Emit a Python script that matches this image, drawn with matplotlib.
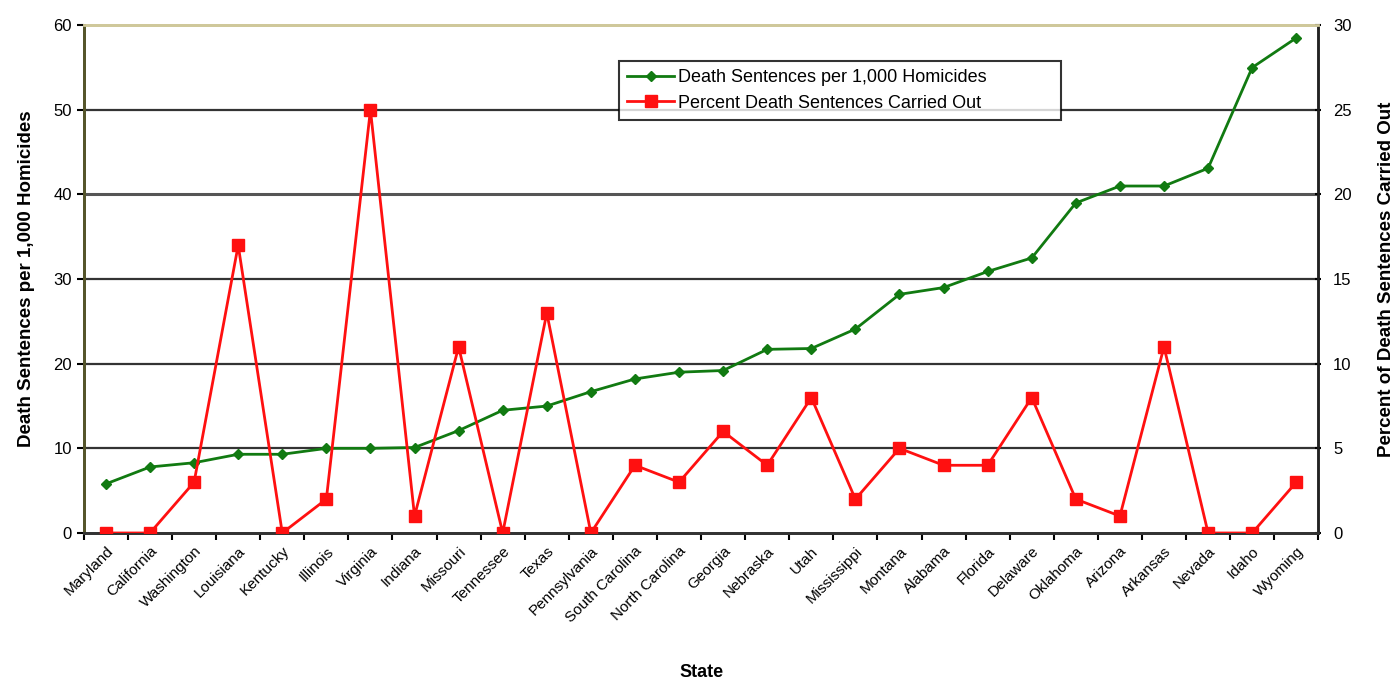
import numpy as np
import matplotlib.pyplot as plt

states = ["Maryland", "California", "Washington", "Louisiana", "Kentucky", "Illinois",
          "Virginia", "Indiana", "Missouri", "Tennessee", "Texas", "Pennsylvania",
          "South Carolina", "North Carolina", "Georgia", "Nebraska", "Utah", "Mississippi",
          "Montana", "Alabama", "Florida", "Delaware", "Oklahoma", "Arizona", "Arkansas",
          "Nevada", "Idaho", "Wyoming"]
# death sentences per 1,000 homicides (left axis)
sentences = [5.8, 7.8, 8.3, 9.3, 9.3, 10.0, 10.0, 10.1, 12.1, 14.5, 15.0, 16.7,
             18.2, 19.0, 19.2, 21.7, 21.8, 24.1, 28.2, 29.0, 30.9, 32.5, 39.0, 41.0,
             41.0, 43.1, 55.0, 58.5]
# percent of death sentences carried out (right axis)
carried = [0, 0, 3, 17, 0, 2, 25, 1, 11, 0, 13, 0, 4, 3, 6, 4, 8, 2,
           5, 4, 4, 8, 2, 1, 11, 0, 0, 3]

plt.rcParams['font.family'] = ['Liberation Sans', 'DejaVu Sans']

fig = plt.figure(figsize=(13.98, 6.82), dpi=100)
ax = fig.add_axes([0.060, 0.2185, 0.883, 0.7445])
ax2 = ax.twinx()

x = np.arange(len(states))

# horizontal grid
for v in range(10, 60, 10):
    ax.axhline(v, color='#333333' if v != 40 else '#555555', lw=1.6 if v != 40 else 2.2, zorder=0)

l1, = ax.plot(x, sentences, color='#117a11', lw=2, marker='D', markersize=5,
              label='Death Sentences per 1,000 Homicides', zorder=3)
l2, = ax2.plot(x, carried, color='#ff1010', lw=2, marker='s', markersize=9,
               label='Percent Death Sentences Carried Out', zorder=3)

ax.set_xlim(-0.5, len(states) - 0.5)
ax.set_ylim(0, 60)
ax2.set_ylim(0, 30)
ax.set_yticks(range(0, 61, 10))
ax2.set_yticks(range(0, 31, 5))

ax.set_xticks(x)
ax.set_xticklabels(states, rotation=45, ha='right', rotation_mode='anchor', fontsize=11)
ax.set_xticks(np.arange(-0.5, len(states), 1), minor=True)
ax.tick_params(axis='x', which='major', length=0, pad=8)
ax.tick_params(axis='x', which='minor', length=5, width=1.5, direction='out')
ax.tick_params(axis='y', labelsize=12, length=5, width=1.5, direction='out')
ax2.tick_params(axis='y', labelsize=12, length=5, width=1.5, direction='inout', pad=8)

for a in (ax, ax2):
    a.spines['top'].set_color('#cfc89a')
    a.spines['top'].set_linewidth(2)
    a.spines['left'].set_color('#55552a')
    a.spines['left'].set_linewidth(2)
    a.spines['right'].set_color('#222222')
    a.spines['right'].set_linewidth(1.8)
    a.spines['bottom'].set_color('#333333')
    a.spines['bottom'].set_linewidth(2)

ax.set_ylabel('Death Sentences per 1,000 Homicides', fontsize=13.5, fontweight='bold', labelpad=13)
ax2.set_ylabel('Percent of Death Sentences Carried Out', fontsize=13.5, fontweight='bold', labelpad=19)
ax.set_xlabel('State', fontsize=13, fontweight='bold', labelpad=28)

leg = ax2.legend(handles=[l1, l2], loc='upper left', bbox_to_anchor=(0.4335, 0.819, 0.358, 0.11),
                 mode='expand', fontsize=13, frameon=True, fancybox=False, edgecolor='black',
                 handlelength=2.6, handletextpad=0.2, borderpad=0.45, labelspacing=0.45,
                 borderaxespad=0)
leg.get_frame().set_linewidth(1.5)

fig.savefig('out.png', dpi=100)
